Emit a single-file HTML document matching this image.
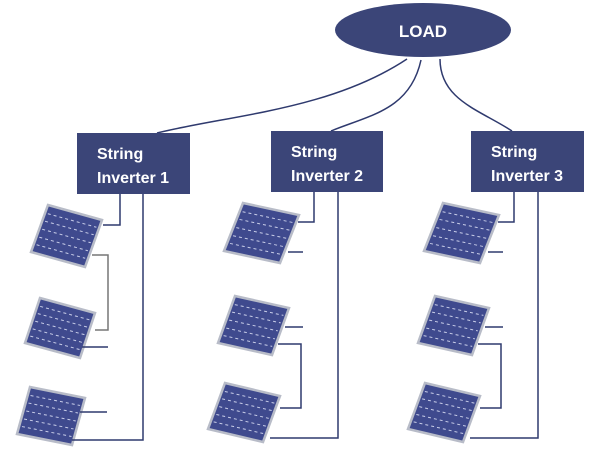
<!DOCTYPE html>
<html><head><meta charset="utf-8"><style>
html,body{margin:0;padding:0;background:#fff;width:600px;height:450px;overflow:hidden}
svg{display:block}
</style></head><body>
<svg width="600" height="450" viewBox="0 0 600 450" xmlns="http://www.w3.org/2000/svg">
<defs>
<g id="pn">
<rect x="0" y="0" width="1" height="1" fill="#3f4a8e" stroke="#b8bcc8" stroke-width="2.5" vector-effect="non-scaling-stroke"/>
<g stroke="#c8cde8" stroke-width="1" stroke-dasharray="3 3">
<line x1="0.05" y1="0.17" x2="0.95" y2="0.17" vector-effect="non-scaling-stroke"/>
<line x1="0.05" y1="0.33" x2="0.95" y2="0.33" vector-effect="non-scaling-stroke"/>
<line x1="0.05" y1="0.5" x2="0.95" y2="0.5" vector-effect="non-scaling-stroke"/>
<line x1="0.05" y1="0.67" x2="0.95" y2="0.67" vector-effect="non-scaling-stroke"/>
<line x1="0.05" y1="0.83" x2="0.95" y2="0.83" vector-effect="non-scaling-stroke"/>
</g>
</g>
</defs>
<g fill="none" stroke="#2f3a6e" stroke-width="1.5">
<path d="M407 59 C330 110 230 115 157 133"/>
<path d="M421 60 C410 110 370 115 331 131"/>
<path d="M440 59 C440 100 480 110 512 131"/>
</g>
<ellipse cx="423" cy="30" rx="88" ry="27" fill="#3b4578"/>
<text x="423" y="37" text-anchor="middle" font-family="Liberation Sans, sans-serif" font-weight="bold" font-size="17" fill="#fff">LOAD</text>
<g fill="#3b4578">
<rect x="77" y="133" width="113" height="61"/>
<rect x="271" y="131" width="112" height="61"/>
<rect x="471" y="131" width="113" height="61"/>
</g>
<g font-family="Liberation Sans, sans-serif" font-weight="bold" font-size="16" fill="#fff">
<text x="97" y="159">String</text><text x="97" y="183">Inverter 1</text>
<text x="291" y="157">String</text><text x="291" y="181">Inverter 2</text>
<text x="491" y="157">String</text><text x="491" y="181">Inverter 3</text>
</g>
<use href="#pn" transform="matrix(54,15,-17,47,48,205)"/>
<use href="#pn" transform="matrix(55,15,-15,45,40,298)"/>
<use href="#pn" transform="matrix(55,11,-13,47,30,387)"/>
<use href="#pn" transform="matrix(56,12,-19,48,243,203)"/>
<use href="#pn" transform="matrix(54,12,-17,47,235,296)"/>
<use href="#pn" transform="matrix(55,13,-17,46,225,383)"/>
<use href="#pn" transform="matrix(56,12,-19,48,443,203)"/>
<use href="#pn" transform="matrix(54,12,-17,47,435,296)"/>
<use href="#pn" transform="matrix(55,13,-17,46,425,383)"/>
<g fill="none" stroke="#2f3a6e" stroke-width="1.5">
<path d="M120 194 V225 H103"/>
<path d="M92 255 H108 V330 H95" stroke="#777"/>
<path d="M82 347 H108"/>
<path d="M80 412 H107"/>
<path d="M143 194 V440 H72"/>
</g>
<g id="c2" fill="none" stroke="#2f3a6e" stroke-width="1.5">
<path d="M314 192 V222 H298"/>
<path d="M288 252 H303"/>
<path d="M285 327 H303"/>
<path d="M278 344 H301 V408 H280"/>
<path d="M338 192 V438 H270"/>
</g>
<use href="#c2" transform="translate(200,0)"/>
</svg>
</body></html>
